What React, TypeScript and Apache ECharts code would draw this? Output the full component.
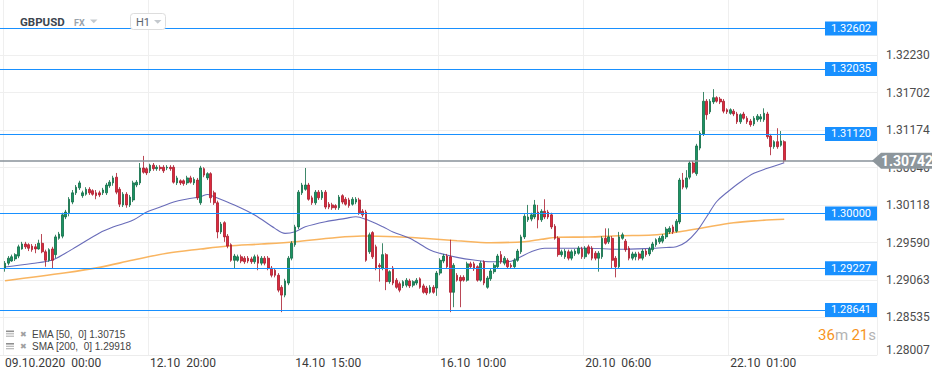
import React, { useEffect, useRef } from 'react';
import * as echarts from 'echarts';

const symbolName = 'GBPUSD';
const marketTag = 'FX';
const timeframe = 'H1';

// x ticks: candle index -> label
const xTickCandle = [0, 43, 86, 129, 172, 215];
const xTickLabels = ['09.10.2020  00:00', '12.10  20:00', '14.10  15:00', '16.10  10:00', '20.10  06:00', '22.10  01:00'];

// right axis tick labels
const yTicks = [1.28007, 1.28535, 1.29063, 1.2959, 1.30118, 1.30646, 1.31174, 1.31702, 1.3223];
const yMin = 1.28007;
const yMax = 1.33005;

// horizontal levels
const levels = [1.32602, 1.32035, 1.3112, 1.3, 1.29227, 1.28641];
const currentPrice = 1.30742;

// timer
const timerMin = '36';
const timerSec = '21';

// [open, close, low, high] per H1 candle
const candles = [
  [1.2923, 1.293, 1.2918, 1.2933], [1.293, 1.2937, 1.2927, 1.294], [1.2933, 1.2939, 1.2932, 1.2942], [1.2936, 1.2942, 1.2933, 1.2944],
  [1.294, 1.2953, 1.2937, 1.2956], [1.295, 1.2957, 1.2949, 1.296], [1.2957, 1.2953, 1.295, 1.296], [1.2956, 1.2951, 1.2947, 1.2958],
  [1.2954, 1.2949, 1.2946, 1.2957], [1.2953, 1.295, 1.2944, 1.2957], [1.295, 1.2958, 1.2949, 1.2963], [1.2958, 1.2946, 1.2944, 1.2971],
  [1.2946, 1.2934, 1.2925, 1.2949], [1.2934, 1.2949, 1.2932, 1.2951], [1.295, 1.2934, 1.2922, 1.2953], [1.2942, 1.2967, 1.2937, 1.297],
  [1.2965, 1.2971, 1.2963, 1.2974], [1.2968, 1.2998, 1.2965, 1.3001], [1.2995, 1.3002, 1.2992, 1.3005], [1.3001, 1.302, 1.2996, 1.3023],
  [1.3016, 1.3029, 1.3013, 1.3033], [1.3029, 1.3037, 1.3026, 1.304], [1.3036, 1.3043, 1.3033, 1.3046], [1.3025, 1.3029, 1.3022, 1.3032],
  [1.3027, 1.3034, 1.3025, 1.3037], [1.3034, 1.3029, 1.3026, 1.3037], [1.3032, 1.3027, 1.3025, 1.3034], [1.3029, 1.3025, 1.302, 1.3033],
  [1.3029, 1.3026, 1.3023, 1.3032], [1.3029, 1.3033, 1.3026, 1.3036], [1.3029, 1.304, 1.3026, 1.3043], [1.3039, 1.3044, 1.3036, 1.3047],
  [1.3043, 1.305, 1.3039, 1.3053], [1.3051, 1.303, 1.3027, 1.3057], [1.3034, 1.3013, 1.3009, 1.3037], [1.3012, 1.3027, 1.3009, 1.303],
  [1.3027, 1.3012, 1.3008, 1.303], [1.3012, 1.3023, 1.3009, 1.3026], [1.3019, 1.3043, 1.3016, 1.3046], [1.304, 1.3044, 1.3037, 1.3047],
  [1.3043, 1.3064, 1.304, 1.3071], [1.3064, 1.3058, 1.3056, 1.3081], [1.3063, 1.3057, 1.3054, 1.3065], [1.306, 1.3068, 1.3057, 1.307],
  [1.3068, 1.3063, 1.306, 1.3071], [1.3063, 1.3065, 1.306, 1.3068], [1.3065, 1.3063, 1.306, 1.3068], [1.3065, 1.306, 1.3057, 1.3068],
  [1.3064, 1.3065, 1.3061, 1.3068], [1.3065, 1.3063, 1.306, 1.3068], [1.3065, 1.3044, 1.3042, 1.3068], [1.3043, 1.305, 1.304, 1.3053],
  [1.3046, 1.3043, 1.304, 1.3048], [1.3046, 1.3042, 1.3039, 1.3048], [1.3043, 1.305, 1.304, 1.3053], [1.305, 1.3044, 1.3042, 1.3053],
  [1.3043, 1.3048, 1.304, 1.3051], [1.3047, 1.3022, 1.3019, 1.305], [1.3015, 1.3064, 1.3012, 1.3067], [1.3063, 1.3054, 1.3051, 1.3065],
  [1.305, 1.3056, 1.3047, 1.3058], [1.3056, 1.3022, 1.3015, 1.3058], [1.3029, 1.3015, 1.3012, 1.3032], [1.3015, 1.2974, 1.2965, 1.3018],
  [1.2974, 1.2985, 1.2971, 1.2988], [1.2987, 1.2967, 1.296, 1.2989], [1.2968, 1.2954, 1.2951, 1.2971], [1.2956, 1.2934, 1.2932, 1.2958],
  [1.2934, 1.294, 1.2922, 1.2943], [1.2934, 1.2939, 1.2932, 1.2942], [1.2939, 1.2933, 1.293, 1.2942], [1.2937, 1.2932, 1.2929, 1.294],
  [1.2937, 1.2933, 1.293, 1.294], [1.2936, 1.2932, 1.2929, 1.2939], [1.2932, 1.2939, 1.2929, 1.2942], [1.2939, 1.293, 1.292, 1.2942],
  [1.293, 1.2937, 1.2927, 1.294], [1.2937, 1.293, 1.2927, 1.294], [1.2937, 1.2923, 1.292, 1.294], [1.2923, 1.2913, 1.291, 1.2926],
  [1.292, 1.2913, 1.291, 1.2923], [1.2913, 1.2892, 1.2889, 1.2916], [1.2896, 1.2885, 1.2861, 1.2899], [1.2885, 1.2905, 1.2882, 1.2908],
  [1.2902, 1.2937, 1.2899, 1.294], [1.2937, 1.2958, 1.2934, 1.2961], [1.2956, 1.2981, 1.2953, 1.2984], [1.2981, 1.303, 1.2978, 1.3033],
  [1.3029, 1.304, 1.3026, 1.3043], [1.3034, 1.304, 1.3032, 1.3064], [1.304, 1.302, 1.3018, 1.3043], [1.3022, 1.3015, 1.3012, 1.3025],
  [1.3015, 1.303, 1.3012, 1.3033], [1.303, 1.3022, 1.3019, 1.3033], [1.3022, 1.303, 1.3019, 1.3033], [1.303, 1.3009, 1.3006, 1.3033],
  [1.3013, 1.3009, 1.3006, 1.3016], [1.3012, 1.3008, 1.3005, 1.3015], [1.3011, 1.3008, 1.3005, 1.3013], [1.3008, 1.3023, 1.3005, 1.3026],
  [1.3025, 1.3016, 1.3013, 1.3027], [1.302, 1.3013, 1.3011, 1.3023], [1.3019, 1.3011, 1.3008, 1.3022], [1.3013, 1.302, 1.3011, 1.3023],
  [1.3016, 1.302, 1.3013, 1.3023], [1.3019, 1.3001, 1.2998, 1.3022], [1.3003, 1.2998, 1.2995, 1.3006], [1.3002, 1.2934, 1.2932, 1.3005],
  [1.2946, 1.297, 1.2943, 1.2973], [1.2973, 1.2939, 1.2936, 1.2975], [1.2953, 1.2923, 1.292, 1.2956], [1.2927, 1.2925, 1.2904, 1.293],
  [1.2923, 1.2942, 1.292, 1.2958], [1.2942, 1.2904, 1.2892, 1.2944], [1.2904, 1.2918, 1.2901, 1.292], [1.2923, 1.2902, 1.2899, 1.2926],
  [1.2906, 1.2896, 1.2894, 1.2909], [1.2901, 1.2892, 1.2889, 1.2904], [1.2898, 1.2904, 1.2895, 1.2906], [1.2899, 1.2906, 1.2896, 1.2909],
  [1.2905, 1.2898, 1.2895, 1.2908], [1.2899, 1.2904, 1.2896, 1.2906], [1.2902, 1.2906, 1.2899, 1.2909], [1.2908, 1.2896, 1.2894, 1.291],
  [1.2898, 1.2889, 1.2887, 1.2901], [1.2895, 1.2888, 1.2885, 1.2898], [1.2889, 1.2896, 1.2887, 1.2899], [1.2896, 1.2889, 1.2887, 1.2899],
  [1.2895, 1.2916, 1.2884, 1.2919], [1.2916, 1.2934, 1.2913, 1.2937], [1.2933, 1.294, 1.293, 1.2943], [1.294, 1.2925, 1.2922, 1.2943],
  [1.2939, 1.2889, 1.2861, 1.2963], [1.2889, 1.2927, 1.2868, 1.293], [1.2913, 1.2906, 1.2904, 1.2916], [1.291, 1.2905, 1.2868, 1.2913],
  [1.291, 1.2906, 1.2904, 1.2913], [1.2906, 1.2929, 1.2904, 1.2932], [1.2929, 1.2925, 1.2922, 1.2932], [1.2929, 1.2922, 1.2919, 1.2932],
  [1.2925, 1.2906, 1.2904, 1.2927], [1.2906, 1.293, 1.2904, 1.2933], [1.2932, 1.2902, 1.2899, 1.2934], [1.2896, 1.2909, 1.2894, 1.2912],
  [1.2908, 1.2919, 1.2905, 1.2922], [1.2918, 1.2927, 1.2915, 1.293], [1.2925, 1.294, 1.2922, 1.2943], [1.2942, 1.2932, 1.2929, 1.2947],
  [1.293, 1.2937, 1.2927, 1.294], [1.2934, 1.2925, 1.2922, 1.2937], [1.2927, 1.2925, 1.2922, 1.293], [1.2925, 1.2934, 1.2922, 1.2937],
  [1.2934, 1.2947, 1.2932, 1.295], [1.2946, 1.2967, 1.2943, 1.297], [1.2967, 1.2996, 1.2964, 1.2999], [1.2991, 1.2995, 1.2988, 1.3012],
  [1.2992, 1.2998, 1.2989, 1.3001], [1.2995, 1.3012, 1.2992, 1.3019], [1.3002, 1.2991, 1.2979, 1.3012], [1.2991, 1.3003, 1.2988, 1.3006],
  [1.3003, 1.2995, 1.2992, 1.302], [1.3002, 1.2995, 1.2992, 1.3005], [1.2998, 1.2981, 1.2978, 1.3001], [1.2982, 1.2965, 1.2963, 1.2985],
  [1.2965, 1.2942, 1.2939, 1.2968], [1.2942, 1.2946, 1.2939, 1.2949], [1.2939, 1.2947, 1.2936, 1.295], [1.2946, 1.2937, 1.2934, 1.2949],
  [1.2937, 1.2946, 1.2934, 1.2949], [1.2943, 1.2947, 1.294, 1.295], [1.2944, 1.2951, 1.2942, 1.2954], [1.295, 1.2939, 1.2936, 1.2953],
  [1.2939, 1.2951, 1.2936, 1.2954], [1.2953, 1.2944, 1.2942, 1.2956], [1.2951, 1.2937, 1.2934, 1.2954], [1.2944, 1.2937, 1.2934, 1.2947],
  [1.2937, 1.2944, 1.2918, 1.2947], [1.2939, 1.2965, 1.2936, 1.2968], [1.2965, 1.2958, 1.2956, 1.2979], [1.296, 1.2967, 1.2957, 1.2979],
  [1.2965, 1.2934, 1.2923, 1.2968], [1.2937, 1.2925, 1.291, 1.294], [1.2925, 1.2967, 1.2922, 1.2974], [1.2965, 1.297, 1.2963, 1.2973],
  [1.2961, 1.2949, 1.2946, 1.2964], [1.2951, 1.2937, 1.2934, 1.2954], [1.2937, 1.2943, 1.2934, 1.2946], [1.2939, 1.2943, 1.2934, 1.2946],
  [1.2943, 1.2937, 1.2934, 1.2946], [1.2937, 1.2947, 1.2934, 1.295], [1.2947, 1.2942, 1.2939, 1.295], [1.2943, 1.295, 1.294, 1.2953],
  [1.2949, 1.2957, 1.2946, 1.296], [1.2956, 1.2963, 1.2953, 1.2965], [1.296, 1.2965, 1.2957, 1.2968], [1.2961, 1.2968, 1.2958, 1.2971],
  [1.2967, 1.2978, 1.2964, 1.2981], [1.2974, 1.2979, 1.2971, 1.2982], [1.2981, 1.2974, 1.2971, 1.2984], [1.2975, 1.2989, 1.2973, 1.2992],
  [1.2988, 1.3047, 1.2985, 1.305], [1.3047, 1.3037, 1.3034, 1.3057], [1.3037, 1.305, 1.3034, 1.3061], [1.3051, 1.3071, 1.3048, 1.3074],
  [1.3071, 1.3058, 1.3056, 1.3074], [1.3056, 1.3095, 1.3053, 1.3098], [1.3092, 1.3113, 1.3089, 1.3116], [1.3112, 1.3158, 1.3109, 1.3171],
  [1.3158, 1.3139, 1.3132, 1.3161], [1.3143, 1.3158, 1.314, 1.3161], [1.3157, 1.3163, 1.3154, 1.3175], [1.3163, 1.3158, 1.3156, 1.3165],
  [1.3161, 1.3157, 1.3154, 1.3164], [1.3158, 1.3144, 1.3141, 1.3161], [1.3146, 1.3143, 1.314, 1.3148], [1.3141, 1.3146, 1.3139, 1.3148],
  [1.3144, 1.314, 1.3137, 1.3147], [1.314, 1.3129, 1.3126, 1.3143], [1.3129, 1.3139, 1.3126, 1.3141], [1.314, 1.3134, 1.3132, 1.3143],
  [1.3134, 1.3129, 1.3126, 1.3137], [1.313, 1.3125, 1.3122, 1.3133], [1.3126, 1.3134, 1.3123, 1.3137], [1.3132, 1.3137, 1.3129, 1.314],
  [1.3133, 1.3136, 1.3129, 1.314], [1.3132, 1.3141, 1.3129, 1.3148], [1.314, 1.3108, 1.3105, 1.3143], [1.3109, 1.3094, 1.3082, 1.3112],
  [1.3094, 1.3101, 1.3091, 1.3103], [1.3101, 1.3094, 1.3091, 1.312], [1.3096, 1.3102, 1.3094, 1.3116], [1.3101, 1.30742, 1.3072, 1.3103],
];

// EMA(50) read at candle indices
const emaPoints = [
  [0, 1.29245], [8, 1.29295], [14, 1.29344], [18, 1.29443], [21, 1.29527], [28, 1.29725], [32, 1.29808], [38, 1.29907],
  [42, 1.3002], [46, 1.3009], [50, 1.30161], [54, 1.30203], [58, 1.30236], [60, 1.30267], [62, 1.30236], [68, 1.30119],
  [74, 1.29978], [80, 1.2979], [83, 1.2972], [86, 1.29743], [89, 1.29813], [95, 1.29884], [101, 1.29931], [104, 1.29954],
  [107, 1.29917], [112, 1.29813], [115, 1.29739], [120, 1.2965], [126, 1.29485], [129, 1.29438], [134, 1.29382], [139, 1.29344],
  [144, 1.2932], [149, 1.2932], [152, 1.29368], [156, 1.29461], [160, 1.29509], [164, 1.29509], [173, 1.29509], [182, 1.29495],
  [192, 1.29509], [196, 1.2952], [199, 1.29532], [202, 1.29602], [205, 1.29743], [208, 1.29954], [211, 1.30168], [214, 1.30295],
  [218, 1.30443], [222, 1.30565], [226, 1.30635], [231, 1.30715],
];

// SMA(200) read at candle indices
const smaPoints = [
  [0, 1.29053], [18, 1.29165], [28, 1.29241], [38, 1.29344], [48, 1.29439], [58, 1.29499], [66, 1.29541], [76, 1.29569],
  [86, 1.29602], [96, 1.2965], [106, 1.29682], [116, 1.29672], [124, 1.2965], [134, 1.29616], [144, 1.29588], [154, 1.29602],
  [159, 1.29636], [164, 1.29664], [173, 1.29668], [182, 1.29686], [192, 1.29696], [200, 1.29743], [207, 1.29799], [216, 1.29869],
  [223, 1.29898], [231, 1.29918],
];

const emaLabel = 'EMA [50,  0]';
const smaLabel = 'SMA [200,  0]';

const SLOTS = 260; // one leading empty slot + candles + empty right margin
const GRID_RIGHT_X = 877;

const isTickSlot = (s: number) => xTickCandle.includes(s - 1);

export default function App() {
  const ref = useRef<HTMLDivElement>(null);

  useEffect(() => {
    document.body.style.margin = '0';
    const chart = echarts.init(ref.current as HTMLDivElement, null, { renderer: 'svg' });

    const cats = Array.from({ length: SLOTS }, (_, s) => {
      const k = xTickCandle.indexOf(s - 1);
      return k >= 0 ? xTickLabels[k] : `#${s}`;
    });

    const option: any = {
      animation: false,
      grid: { left: 0, right: 945 - GRID_RIGHT_X, top: 0, bottom: 25, outerBoundsMode: 'none' },
      xAxis: {
        type: 'category',
        data: cats,
        boundaryGap: true,
        axisLine: { show: true, lineStyle: { color: '#ececec', width: 1 } },
        axisTick: { show: false },
        axisLabel: {
          interval: (i: number) => isTickSlot(i),
          align: 'left',
          color: '#3a3a3a',
          fontSize: 12,
          fontFamily: 'Roboto',
          margin: 2,
        },
        splitLine: {
          show: true,
          interval: (i: number) => isTickSlot(i),
          lineStyle: { color: '#efefef', width: 1 },
        },
      },
      yAxis: {
        type: 'value',
        position: 'right',
        min: yMin,
        max: yMax,
        axisLine: { show: false },
        axisTick: { show: false, customValues: yTicks },
        axisLabel: {
          customValues: yTicks,
          formatter: (v: number) => (v <= yMin ? `{low|${v.toFixed(5)}}` : v.toFixed(5)),
          rich: { low: { padding: [0, 0, 10, 0], color: '#4d4d4d', fontSize: 12, fontFamily: 'Roboto' } },
          color: '#4d4d4d',
          fontSize: 12,
          fontFamily: 'Roboto',
          margin: 9,
        },
        splitLine: { show: true, lineStyle: { color: '#efefef', width: 1 } },
      },
      series: [
        {
          type: 'line',
          name: 'SMA',
          data: smaPoints.map(([i, v]) => [i + 1, v]),
          smooth: 0.35,
          showSymbol: false,
          lineStyle: { color: '#f8a845', width: 1.6, opacity: 0.85 },
          z: 1,
        },
        {
          type: 'line',
          name: 'EMA',
          data: emaPoints.map(([i, v]) => [i + 1, v]),
          smooth: 0.35,
          showSymbol: false,
          lineStyle: { color: '#4f52ad', width: 1.1, opacity: 0.85 },
          z: 1,
        },
        {
          type: 'candlestick',
          name: symbolName,
          data: candles.map((c, i) => [i + 1, ...c]),
          encode: { x: 0, y: [1, 2, 3, 4] },
          barWidth: 2.2,
          itemStyle: {
            color: '#1a9463',
            color0: '#dd2a3d',
            borderColor: '#0f6b45',
            borderColor0: '#a8192b',
            borderWidth: 0.8,
          },
          z: 2,
        },
        {
          type: 'line',
          name: 'levels',
          data: [],
          showSymbol: false,
          z: 3,
          markLine: {
            silent: true,
            precision: 5,
            symbol: ['none', 'none'],
            animation: false,
            data: [
              ...levels.map((v) => ({
                yAxis: v,
                lineStyle: { color: '#1890ff', width: 1, type: 'solid' },
                label: {
                  show: true,
                  position: 'insideEnd',
                  distance: 0,
                  formatter: v.toFixed(5),
                  color: '#ffffff',
                  backgroundColor: '#1890ff',
                  padding: [2, 6, 1, 6],
                  fontSize: 11,
                  fontFamily: 'Roboto',
                },
              })),
              {
                yAxis: currentPrice,
                lineStyle: { color: '#88929a', width: 1.5, type: 'solid' },
                label: { show: false },
              },
            ],
          },
        },
      ],
    };

    chart.setOption(option);

    const py = chart.convertToPixel({ yAxisIndex: 0 }, currentPrice) as number;
    const emaLast = emaPoints[emaPoints.length - 1][1];
    const smaLast = smaPoints[smaPoints.length - 1][1];

    const legendRow = (y: number, text: string) => [
      { type: 'rect', shape: { x: 6, y: y - 3.5, width: 8, height: 1.6 }, style: { fill: '#8f8f8f' }, z: 60 },
      { type: 'rect', shape: { x: 6, y: y - 0.8, width: 8, height: 1.2 }, style: { fill: '#b5b5b5' }, z: 60 },
      { type: 'rect', shape: { x: 6, y: y + 1.6, width: 8, height: 1.2 }, style: { fill: '#b5b5b5' }, z: 60 },
      { type: 'text', x: 20, y, style: { text: '✖', font: '8px "DejaVu Sans"', fill: '#a0a0a0', verticalAlign: 'middle' }, z: 60 },
      { type: 'text', x: 32, y, style: { text, font: '10px "Liberation Sans"', fill: '#444', verticalAlign: 'middle' }, z: 60 },
    ];

    chart.setOption({
      graphic: [
        { type: 'rect', shape: { x: 130.5, y: 13.5, width: 35, height: 16, r: 3 }, style: { fill: '#ffffff', stroke: '#dddddd', lineWidth: 1 }, z: 50 },
        { type: 'text', x: 20, y: 22, style: { text: symbolName, font: 'bold 11.5px Roboto', fill: '#3c4650', verticalAlign: 'middle' }, z: 51 },
        { type: 'text', x: 74, y: 22.5, style: { text: marketTag, font: 'bold 9px Roboto', fill: '#9aa3ab', verticalAlign: 'middle' }, z: 51 },
        { type: 'polygon', shape: { points: [[90, 19.5], [97.5, 19.5], [93.75, 23.2]] }, style: { fill: '#c4c9ce' }, z: 51 },
        { type: 'text', x: 136, y: 22, style: { text: timeframe, font: '11px Roboto', fill: '#5a646e', verticalAlign: 'middle' }, z: 51 },
        { type: 'polygon', shape: { points: [[154, 20], [161.5, 20], [157.75, 23.7]] }, style: { fill: '#c4c9ce' }, z: 51 },
        ...legendRow(334, `${emaLabel} ${emaLast.toFixed(5)}`),
        ...legendRow(346.5, `${smaLabel} ${smaLast.toFixed(5)}`),
        {
          type: 'text',
          x: 876,
          y: 335,
          style: {
            text: `{o|${timerMin}}{g|m} {o|${timerSec}}{g|s}`,
            align: 'right',
            verticalAlign: 'middle',
            rich: {
              o: { fill: '#f7941d', fontSize: 15, fontFamily: 'Roboto' },
              g: { fill: '#b3b3b3', fontSize: 15, fontFamily: 'Roboto' },
            },
          },
          z: 60,
        },
        {
          type: 'polygon',
          shape: { points: [[872, py], [881, py - 8], [932, py - 8], [932, py + 8], [881, py + 8]] },
          style: { fill: '#8d969c' },
          z: 100,
        },
        {
          type: 'text',
          x: 907,
          y: py,
          style: { text: currentPrice.toFixed(5), font: 'bold 14px Roboto', fill: '#ffffff', align: 'center', verticalAlign: 'middle' },
          z: 101,
        },
      ],
    });

    return () => chart.dispose();
  }, []);

  return <div ref={ref} style={{ width: 945, height: 380 }} />;
}
